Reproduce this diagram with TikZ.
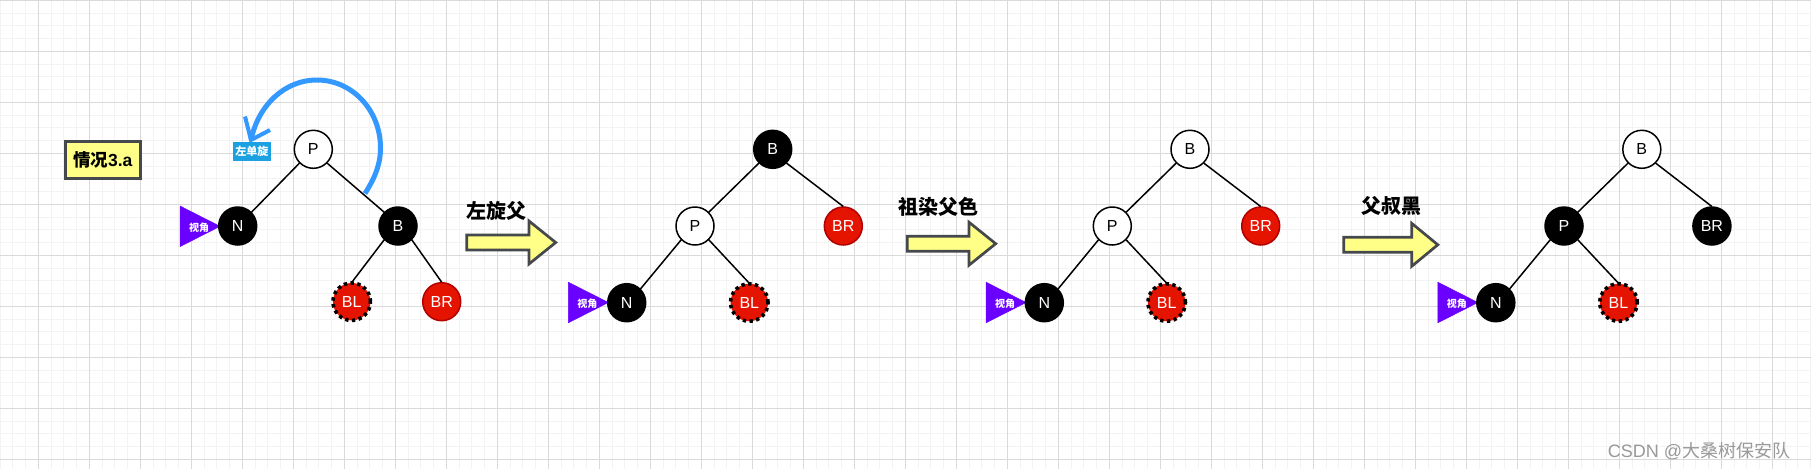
\documentclass[tikz,border=0pt]{standalone}
\usepackage{fontspec}
\setmainfont{Liberation Sans}
\newfontfamily\cjk{Noto Sans CJK SC}
\definecolor{gridmajor}{RGB}{218,218,218}
\definecolor{gridminor}{RGB}{243,243,243}
\definecolor{notefill}{HTML}{FFFF88}
\definecolor{notedraw}{HTML}{45484C}
\definecolor{redfill}{HTML}{E51400}
\definecolor{reddraw}{HTML}{B20000}
\definecolor{viewfill}{HTML}{6A00FF}
\definecolor{tagfill}{HTML}{1BA1E2}
\definecolor{turnblue}{HTML}{3399FF}
\tikzset{
  x=1pt,y=-1pt,
  rb/.style={circle,minimum size=38pt,inner sep=0pt,outer sep=0.5pt,line width=1.5pt,font=\fontsize{16}{16}\selectfont},
  whitenode/.style={rb,draw=black,fill=white,text=black},
  blacknode/.style={rb,draw=black,fill=black,text=white},
  rednode/.style={rb,draw=reddraw,fill=redfill,text=white},
  dottednode/.style={rb,draw=black,fill=redfill,text=white,line width=3.6pt,dash pattern=on 3.4pt off 3.4pt,minimum size=37.5pt},
  edge/.style={draw=black,line width=1.5pt},
  viewmark/.style={fill=viewfill,draw=viewfill,line width=0.5pt},
  viewtext/.style={inner sep=0pt,text=white,font=\fontsize{10}{10}\selectfont\cjk\bfseries},
  steparrow/.style={fill=notefill,draw=notedraw,line width=2.7pt,miter limit=10},
  steptext/.style={inner sep=0pt,text=black,font=\fontsize{20}{20}\selectfont\cjk\bfseries},
  turnline/.style={draw=turnblue,line width=5pt},
  barbline/.style={draw=turnblue,line width=4pt},
}
% Small triangle pointing at a node: #1 name, #2 left x, #3 centre y
\newcommand{\viewmarker}[3]{%
  \fill[viewmark] (#2,#3-20.3) -- (#2+40,#3) -- (#2,#3+20.3) -- cycle;
  \node[viewtext] (#1) at (#2+19,#3+1) {视角};
}
% Block arrow: left x, tip x, head base x, centre y, shaft half height, head half height
\newcommand{\blockarrow}[6]{%
  \draw[steparrow] (#1,#4-#5) -- (#3,#4-#5) -- (#3,#4-#6) -- (#2,#4) -- (#3,#4+#6) -- (#3,#4+#5) -- (#1,#4+#5) -- cycle;
}
% Links of the three later trees: root, left child, right child, outer leaf, inner leaf
\newcommand{\treelinks}[5]{%
  \draw[edge] (#1.south west) -- (#2.north east);
  \draw[edge] (#1.south east) -- (#3.north);
  \draw[edge] (#2.south west) -- (#4.north east);
  \draw[edge] (#2.south east) -- (#5.north);
}
\begin{document}
\begin{tikzpicture}
\useasboundingbox (0,0) rectangle (1811,469);
\fill[white] (0,0) rectangle (1811,469);
% Background grid
\foreach \i in {-3,...,142} {
  \draw[gridminor,line width=1pt] ({38.3+12.75*\i},0) -- ({38.3+12.75*\i},469);
}
\foreach \j in {0,...,37} {
  \draw[gridminor,line width=1pt] (0,{0.3+12.75*\j}) -- (1811,{0.3+12.75*\j});
}
\foreach \i in {-1,...,35} {
  \draw[gridmajor,line width=1pt] ({38.3+51*\i},0) -- ({38.3+51*\i},469);
}
\foreach \j in {0,...,9} {
  \draw[gridmajor,line width=1pt] (0,{0.3+51*\j}) -- (1811,{0.3+51*\j});
}

% Case label
\node[draw=notedraw,fill=notefill,line width=2.7pt,minimum width=75pt,minimum height=37pt,inner sep=0pt,
      font=\fontsize{17.5}{18}\selectfont\bfseries] (case) at (102.8,160.2) {\raisebox{-2.5pt}{{\cjk 情况}3.a}};

% First tree
\viewmarker{v1}{180}{226.3}
\node[whitenode] (p1) at (313.3,149.3) {P};
\node[blacknode] (n1) at (237.7,226) {N};
\node[blacknode] (b1) at (398,226) {B};
\node[dottednode] (bl1) at (351.7,301.7) {BL};
\node[rednode] (br1) at (441.7,301.7) {BR};
\draw[edge] (p1.south west) -- (n1.north east);
\draw[edge] (p1.south east) -- (b1.north west);
\draw[edge] (b1.south west) -- (bl1.north);
\draw[edge] (b1.south east) -- (br1.north);

% Rotation hint
\node[fill=tagfill,text=white,inner sep=0pt,minimum width=38pt,minimum height=19pt,
      font=\fontsize{11}{11}\selectfont\cjk\bfseries] (tag) at (251.8,151.2) {左单旋};
\coordinate (turnstart) at (365,193.5);
\coordinate (turnright) at (380.5,148);
\coordinate (turntop) at (317,80);
\coordinate (turnend) at (251,140);
\draw[turnline] (turnstart) .. controls (376,176) and (380.5,163) .. (turnright)
  .. controls (380.5,110) and (352,80) .. (turntop)
  .. controls (284,80) and (258,106) .. (turnend);
\coordinate (barbone) at (245,116.5);
\coordinate (barbtwo) at (270,130);
\draw[barbline] (barbone) -- (turnend) -- (barbtwo);

% Step one
\blockarrow{466.7}{555.7}{529}{242.5}{7.5}{21.5}
\node[steptext] (s1) at (496,210.7) {左旋父};

% Second tree
\viewmarker{v2}{568.3}{302.5}
\node[blacknode] (b2) at (772.7,149.3) {B};
\node[whitenode] (p2) at (695,226) {P};
\node[rednode] (br2) at (843.3,226) {BR};
\node[blacknode] (n2) at (626.7,302.7) {N};
\node[dottednode] (bl2) at (749.3,302.5) {BL};
\treelinks{b2}{p2}{br2}{n2}{bl2}

% Step two
\blockarrow{907.3}{995.7}{969}{243.7}{7.5}{21.5}
\node[steptext] (s2) at (938.3,206.7) {祖染父色};

% Third tree
\viewmarker{v3}{986}{302.5}
\node[whitenode] (b3) at (1190,149.3) {B};
\node[whitenode] (p3) at (1112.3,226) {P};
\node[rednode] (br3) at (1260.7,226) {BR};
\node[blacknode] (n3) at (1044.3,302.7) {N};
\node[dottednode] (bl3) at (1166.7,302.5) {BL};
\treelinks{b3}{p3}{br3}{n3}{bl3}

% Step three
\blockarrow{1343.7}{1437.8}{1411.7}{244.8}{7.5}{21.5}
\node[steptext] (s3) at (1391,206) {父叔黑};

% Fourth tree
\viewmarker{v4}{1437.8}{302.5}
\node[whitenode] (b4) at (1641.8,149.3) {B};
\node[blacknode] (p4) at (1564,226) {P};
\node[blacknode] (br4) at (1711.9,226) {BR};
\node[blacknode] (n4) at (1495.8,302.7) {N};
\node[dottednode] (bl4) at (1618.5,302.5) {BL};
\treelinks{b4}{p4}{br4}{n4}{bl4}

% Credit line
\node[inner sep=0pt,text=black!40,font=\fontsize{18}{18}\selectfont] (credit) at (1699,450.7) {CSDN @{\cjk 大桑树保安队}};
\end{tikzpicture}
\end{document}
